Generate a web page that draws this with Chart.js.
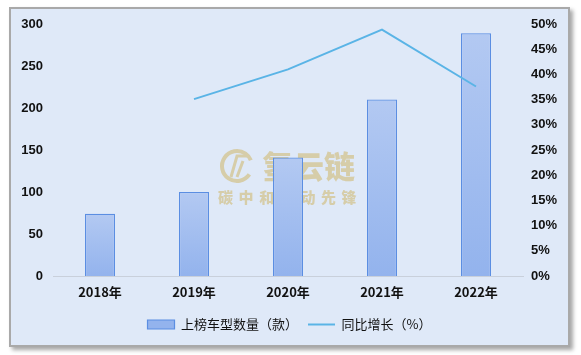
<!DOCTYPE html>
<html>
<head>
<meta charset="utf-8">
<script src="https://cdn.jsdelivr.net/npm/chart.js@4"></script>
<style>
  html, body { margin: 0; padding: 0; background: #ffffff; }
  .card {
    position: absolute;
    left: 9px; top: 7px;
    width: 557px; height: 336px;
    background: #dfe9f8;
    border: 2px solid #a9a9a9;
    box-shadow: 3px 3px 4px rgba(0, 0, 0, 0.35);
  }
  canvas { display: block; }
</style>
</head>
<body>
<div class="card"><canvas id="chart" width="557" height="336"></canvas></div>
<script>
// Chart data
const years = ['2018年', '2019年', '2020年', '2021年', '2022年'];
const modelCounts = [74, 100, 141, 210, 289];
const growthRates = [null, 35.1, 41.0, 48.9, 37.6];
const leftTicks = [0, 50, 100, 150, 200, 250, 300];
const rightTicks = [0, 5, 10, 15, 20, 25, 30, 35, 40, 45, 50];

const cjkFont = "'Noto Sans CJK SC', 'Liberation Sans', sans-serif";
const numFont = "'Liberation Sans', Arial, sans-serif";

// Watermark behind the bars
const watermark = {
  id: 'watermark',
  beforeDatasetsDraw(chart) {
    const ctx = chart.ctx;
    ctx.save();
    ctx.strokeStyle = '#d6cda9';
    ctx.fillStyle = '#d6cda9';
    ctx.lineWidth = 4;
    ctx.beginPath();
    ctx.arc(226, 157, 15, 0.6, Math.PI * 2 - 0.4);
    ctx.stroke();
    ctx.lineWidth = 3;
    ctx.beginPath();
    ctx.moveTo(220, 168); ctx.lineTo(226, 147); ctx.lineTo(236, 147);
    ctx.moveTo(226, 168); ctx.lineTo(232, 152);
    ctx.stroke();
    ctx.font = '900 31px ' + cjkFont;
    ctx.textBaseline = 'middle';
    ctx.fillText('氢云链', 251, 157);
    ctx.font = '900 15px ' + cjkFont;
    const tag = '碳中和驱动先锋';
    for (let i = 0; i < tag.length; i++) {
      ctx.fillText(tag[i], 207 + i * 20.6, 188);
    }
    ctx.restore();
  }
};

const chart = new Chart(document.getElementById('chart'), {
  data: {
    labels: years,
    datasets: [
      {
        type: 'line',
        label: '同比增长（%）',
        data: growthRates,
        yAxisID: 'y1',
        borderColor: '#5ab4e6',
        backgroundColor: '#5ab4e6',
        borderWidth: 2,
        pointRadius: 0,
        pointStyle: 'line',
        tension: 0,
        order: 0
      },
      {
        type: 'bar',
        label: '上榜车型数量（款）',
        data: modelCounts,
        yAxisID: 'y',
        borderColor: '#5b8ee2',
        borderWidth: 1.2,
        pointStyle: 'rect',
        barPercentage: 0.32,
        categoryPercentage: 1,
        backgroundColor: (context) => {
          const c = context.chart;
          const area = c.chartArea;
          if (!area || context.dataIndex === undefined) return '#a6bff0';
          const top = c.scales.y.getPixelForValue(modelCounts[context.dataIndex]);
          const g = c.ctx.createLinearGradient(0, top, 0, area.bottom);
          g.addColorStop(0, '#b3c9f2');
          g.addColorStop(1, '#93b3ed');
          return g;
        },
        order: 1
      }
    ]
  },
  options: {
    responsive: false,
    animation: false,
    layout: { padding: { top: 15, bottom: 4, left: 0, right: 0 } },
    plugins: {
      legend: {
        position: 'bottom',
        reverse: true,
        labels: {
          usePointStyle: true,
          pointStyleWidth: 27,
          boxHeight: 9,
          padding: 10,
          color: '#111111',
          font: { family: cjkFont, size: 13 }
        }
      },
      tooltip: { enabled: false }
    },
    scales: {
      x: {
        grid: { display: false, drawTicks: false },
        border: { color: '#c9d0db', width: 1 },
        ticks: {
          padding: 8,
          color: '#111111',
          font: { family: cjkFont, size: 13, weight: 'bold' }
        },
        afterFit: (scale) => { scale.height = 32; }
      },
      y: {
        position: 'left',
        min: 0,
        max: 300,
        afterBuildTicks: (scale) => { scale.ticks = leftTicks.map(v => ({ value: v })); },
        grid: { display: false, drawTicks: false },
        border: { display: false },
        ticks: {
          padding: 10,
          color: '#111111',
          font: { family: numFont, size: 13, weight: 'bold', lineHeight: 0.75 }
        },
        afterFit: (scale) => { scale.width = 42; }
      },
      y1: {
        position: 'right',
        min: 0,
        max: 50,
        afterBuildTicks: (scale) => { scale.ticks = rightTicks.map(v => ({ value: v })); },
        grid: { display: false, drawTicks: false },
        border: { display: false },
        ticks: {
          padding: 8,
          color: '#111111',
          font: { family: numFont, size: 13, weight: 'bold', lineHeight: 0.75 },
          callback: (v) => v + '%'
        },
        afterFit: (scale) => { scale.width = 45; }
      }
    }
  },
  plugins: [watermark]
});
</script>
</body>
</html>
